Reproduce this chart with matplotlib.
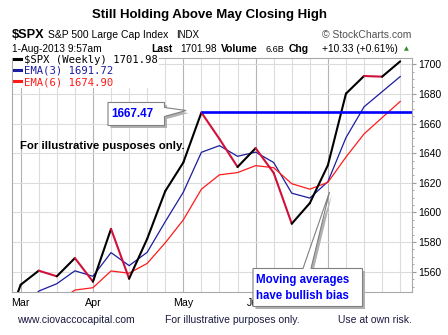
import matplotlib
matplotlib.use("Agg")
import matplotlib.pyplot as plt
from matplotlib.patches import Polygon
from matplotlib.lines import Line2D
from matplotlib.ticker import MultipleLocator

plt.rcParams['font.family'] = ['Liberation Sans', 'DejaVu Sans']

# weekly closes, week of 1-Mar-2013 to 1-Aug-2013 (first point sits just off the left edge)
weeks = ['Mar 1', 'Mar 8', 'Mar 15', 'Mar 22', 'Mar 28', 'Apr 5', 'Apr 12', 'Apr 19',
         'Apr 26', 'May 3', 'May 10', 'May 17', 'May 24', 'May 31', 'Jun 7', 'Jun 14',
         'Jun 21', 'Jun 28', 'Jul 5', 'Jul 12', 'Jul 19', 'Jul 26', 'Aug 1']
spx = [1518.2, 1551.2, 1560.7, 1556.9, 1569.2, 1553.3, 1588.9, 1555.3, 1582.2, 1614.4,
       1633.7, 1667.47, 1649.6, 1630.7, 1643.4, 1626.7, 1592.4, 1606.3, 1631.9, 1680.2,
       1692.1, 1691.65, 1701.98]
ema3 = [1515.0, 1533.1, 1546.9, 1551.9, 1560.6, 1556.9, 1572.9, 1564.1, 1573.1, 1593.8,
        1613.7, 1640.6, 1645.1, 1637.9, 1640.7, 1633.7, 1613.0, 1609.7, 1620.8, 1650.5,
        1671.3, 1681.5, 1691.72]
ema6 = [1507.7, 1520.1, 1531.7, 1538.9, 1547.6, 1549.2, 1560.5, 1559.0, 1565.6, 1579.5,
        1595.0, 1615.7, 1625.4, 1626.9, 1631.6, 1630.2, 1619.4, 1615.7, 1620.3, 1637.4,
        1653.0, 1664.0, 1674.90]
month_starts = ['Mar 8', 'Apr 5', 'May 10', 'Jun 7', 'Jul 5']
month_labels = {'Mar 8': 'Mar', 'Apr 5': 'Apr', 'May 10': 'May', 'Jun 7': 'Jun'}
may_high = 1667.47

xs = list(range(-1, len(weeks) - 1))

W, H = 448, 335
dpi = 100
fig = plt.figure(figsize=(W / dpi, H / dpi), dpi=dpi)
ax = fig.add_axes([12 / W, 1 - 292.3 / H, (412.3 - 12) / W, (292.3 - 58) / H])

def fx(p):
    return p / W

def fy(p):
    return 1 - p / H

# grid: light weekly lines, darker at month starts
for x, w in zip(xs, weeks):
    c = '#b4b4b4' if w in month_starts else '#dcdcdc'
    ax.axvline(x, color=c, lw=0.8, zorder=0)
for y in range(1560, 1701, 20):
    ax.axhline(y, color='#dcdcdc', lw=0.8, zorder=0)

# price line coloured by direction
for i in range(1, len(spx)):
    col = 'black' if spx[i] >= spx[i - 1] else '#d0103a'
    ax.plot(xs[i - 1:i + 1], spx[i - 1:i + 1], color=col, lw=1.5,
            solid_capstyle='round', zorder=4)
ax.plot(xs, ema3, color='#1c1ca0', lw=0.9, zorder=3)
ax.plot(xs, ema6, color='#ff1a1a', lw=0.9, zorder=3)

xlim = (-0.48, 21.67)
ax.hlines(may_high, xs[weeks.index('May 17')], xlim[1], color='#0000ff', lw=1.9, zorder=5)

ax.set_xlim(*xlim)
ax.set_ylim(1546.1, 1704.25)

ax.set_xticks([x for x, w in zip(xs, weeks) if w in month_labels])
ax.set_xticklabels([month_labels[w] for w in weeks if w in month_labels], fontsize=7.7)
ax.tick_params(axis='x', length=0, pad=4)
ax.yaxis.tick_right()
ax.yaxis.set_major_locator(MultipleLocator(20))
ax.yaxis.set_minor_locator(MultipleLocator(5))
ax.tick_params(axis='y', which='major', length=3, color='#999999', labelsize=7.5, pad=1)
ax.tick_params(axis='y', which='minor', length=1.5, color='#999999')
for s in ax.spines.values():
    s.set_color('#a8a8a8')
    s.set_linewidth(0.8)

handles = [Line2D([], [], color='black', lw=2.2),
           Line2D([], [], color='#1c1ca0', lw=2.2),
           Line2D([], [], color='#ff1a1a', lw=2.2)]
labels = ['$SPX (Weekly) 1701.98', 'EMA(3) 1691.72', 'EMA(6) 1674.90']
leg = ax.legend(handles, labels, loc='upper left', bbox_to_anchor=(0, 1.02),
                prop={'family': 'DejaVu Sans Mono', 'size': 7.6},
                handlelength=0.7, handletextpad=0.3, labelspacing=0.1,
                borderpad=0.1, borderaxespad=0.05, frameon=True, fancybox=False)
leg.get_frame().set_edgecolor('none')
leg.get_frame().set_facecolor('white')
leg.get_frame().set_alpha(1)
for t, c in zip(leg.get_texts(), ['black', '#1c1ca0', '#ff1a1a']):
    t.set_color(c)

# header
fig.text(fx(209), fy(15), 'Still Holding Above May Closing High', ha='center', va='center',
         fontsize=9.5, fontweight='bold')
fig.text(fx(11.5), fy(35), '$SPX', ha='left', va='center', fontsize=9.2, fontweight='bold')
fig.text(fx(48), fy(35), 'S&P 500 Large Cap Index', ha='left', va='center', fontsize=7.5)
fig.text(fx(176), fy(35), 'INDX', ha='left', va='center', fontsize=7)
fig.text(fx(411), fy(35), '\u00a9 StockCharts.com', ha='right', va='center', fontsize=7.5,
         color='#505050')
fig.text(fx(11.5), fy(49), '1-Aug-2013 9:57am', ha='left', va='center', fontsize=7.3)
fig.text(fx(151.5), fy(49), 'Last', ha='left', va='center', fontsize=7.5, fontweight='bold')
fig.text(fx(180), fy(49), '1701.98', ha='left', va='center', fontsize=7.3)
fig.text(fx(221), fy(49), 'Volume', ha='left', va='center', fontsize=7.5, fontweight='bold')
fig.text(fx(265.5), fy(49), '6.6B', ha='left', va='center', fontsize=6.6)
fig.text(fx(289), fy(49), 'Chg', ha='left', va='center', fontsize=7.5, fontweight='bold')
fig.text(fx(322), fy(49), '+10.33 (+0.61%)', ha='left', va='center', fontsize=7.3)
fig.text(fx(404), fy(48.5), '\u25b2', ha='left', va='center', fontsize=4.5, color='#2e8b2e',
         family='DejaVu Sans')

# footer
fig.text(fx(17), fy(320), 'www.ciovaccocapital.com', ha='left', va='center', fontsize=7.5,
         color='#1a1a40')
fig.text(fx(165), fy(320), 'For illustrative purposes only.', ha='left', va='center',
         fontsize=7.5, color='#1a1a40')
fig.text(fx(412), fy(320), 'Use at own risk.', ha='right', va='center', fontsize=7.5,
         color='#1a1a40')

fig.text(fx(20), fy(145.7), 'For illustrative pusposes only.', ha='left', va='center',
         fontsize=8.2, fontweight='bold', zorder=6)

# callout boxes with drop shadow
def callout(pts, off=2.5):
    sh = [(fx(x + off), fy(y + off)) for x, y in pts]
    fig.patches.append(Polygon(sh, closed=True, transform=fig.transFigure,
                               facecolor='#b0b0b0', edgecolor='none', zorder=8))
    fig.patches.append(Polygon([(fx(x), fy(y)) for x, y in pts], closed=True,
                               transform=fig.transFigure, facecolor='white',
                               edgecolor='#808080', lw=0.8, zorder=9))

callout([(108, 102.5), (164.5, 102.5), (164.5, 107.5), (186, 110.5), (164.5, 116.5),
         (164.5, 125.5), (108, 125.5)])
fig.text(fx(111), fy(114), '1667.47', ha='left', va='center', fontsize=8.5,
         fontweight='bold', color='#0000ff', zorder=10)

callout([(253, 268.5), (303, 268.5), (329.5, 192), (311, 268.5), (362.5, 268.5),
         (362.5, 306.5), (253, 306.5)])
fig.text(fx(256), fy(280), 'Moving averages', ha='left', va='center', fontsize=8.3,
         fontweight='bold', color='#0000ff', zorder=10)
fig.text(fx(256), fy(296), 'have bullish bias', ha='left', va='center', fontsize=8.3,
         fontweight='bold', color='#0000ff', zorder=10)

fig.savefig('out.png', dpi=dpi)
